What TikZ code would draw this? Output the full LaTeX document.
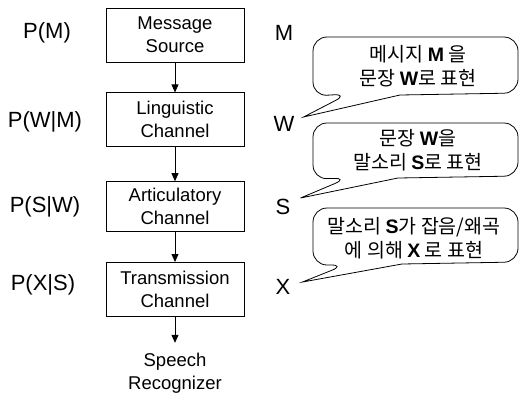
\documentclass[tikz,border=0pt]{standalone}
\usepackage{fontspec}
\setmainfont{Liberation Sans}
\newfontfamily\krfont{Noto Sans CJK KR}
\usetikzlibrary{arrows.meta,positioning,calc}
\newcommand{\bfl}[1]{{\normalfont\bfseries #1}}
\tikzset{
  chbox/.style={draw=black, line width=0.8pt, align=center, minimum width=138pt, minimum height=54pt, font=\fontsize{18.5}{23}\selectfont},
  recbox/.style={align=center, inner ysep=10pt, font=\fontsize{18.5}{23}\selectfont},
  plabel/.style={inner sep=2pt, font=\fontsize{22}{26}\selectfont},
  vlabel/.style={inner sep=2pt, font=\fontsize{22}{26}\selectfont},
  ktext/.style={align=center, font=\fontsize{19.5}{24}\selectfont\krfont},
  bubble/.style={draw=black, line width=0.8pt, rounded corners=14pt},
  arrow/.style={-{Triangle[length=8pt,width=7pt]}, line width=0.8pt}
}
\begin{document}
\begin{tikzpicture}[x=1pt, y=-1pt, node distance=30pt]
\useasboundingbox (0,0) rectangle (520,397);
% channel chain
\node[chbox] (src) at (175,35) {Message\\Source};
\node[chbox, below=of src] (ling) {Linguistic\\Channel};
\node[chbox, below=34pt of ling, minimum height=50pt] (artic) {Articulatory\\Channel};
\node[chbox, below=of artic] (trans) {Transmission\\Channel};
\node[recbox, below=26pt of trans] (rec) {Speech\\Recognizer};
\draw[arrow] (src) -- (ling);
\draw[arrow] (ling) -- (artic);
\draw[arrow] (artic) -- (trans);
\draw[arrow] (trans) -- (rec);
% probabilities
\node[plabel] (pM) at (47,33) {P(M)};
\node[plabel] (pWM) at (45,122) {P(W|M)};
\node[plabel] (pSW) at (45,207) {P(S|W)};
\node[plabel] (pXS) at (43,285) {P(X|S)};
% variables
\node[vlabel] (vM) at (284,33) {M};
\node[vlabel] (vW) at (284,124) {W};
\node[vlabel] (vS) at (283,207) {S};
\node[vlabel] (vX) at (283,287) {X};
% speech bubbles
\node[ktext] (k1) at (418,66) {메시지 \bfl{M} 을\\문장 \bfl{W}로 표현};
\node[ktext] (k2) at (418,150) {문장 \bfl{W}을\\말소리 \bfl{S}로 표현};
\node[ktext] (k3) at (414,238) {말소리 \bfl{S}가 잡음/왜곡\\에 의해 \bfl{X} 로 표현};
\draw[bubble] (400,95) -- (518,93) -- (518,37) -- (313,37) -- (313,96) -- (348,94) [sharp corners] -- ($(vW.east)+(7,-7)$) -- cycle;
\draw[bubble] (398,178) -- (518,176) -- (518,123) -- (313,123) -- (313,179) -- (348,178) [sharp corners] -- ($(vS.east)+(8,-9)$) -- cycle;
\draw[bubble] (402,264) -- (518,262) -- (518,208) -- (313,208) -- (313,265) -- (345,265) [sharp corners] -- ($(vX.east)+(10,-5)$) -- cycle;
\end{tikzpicture}
\end{document}
